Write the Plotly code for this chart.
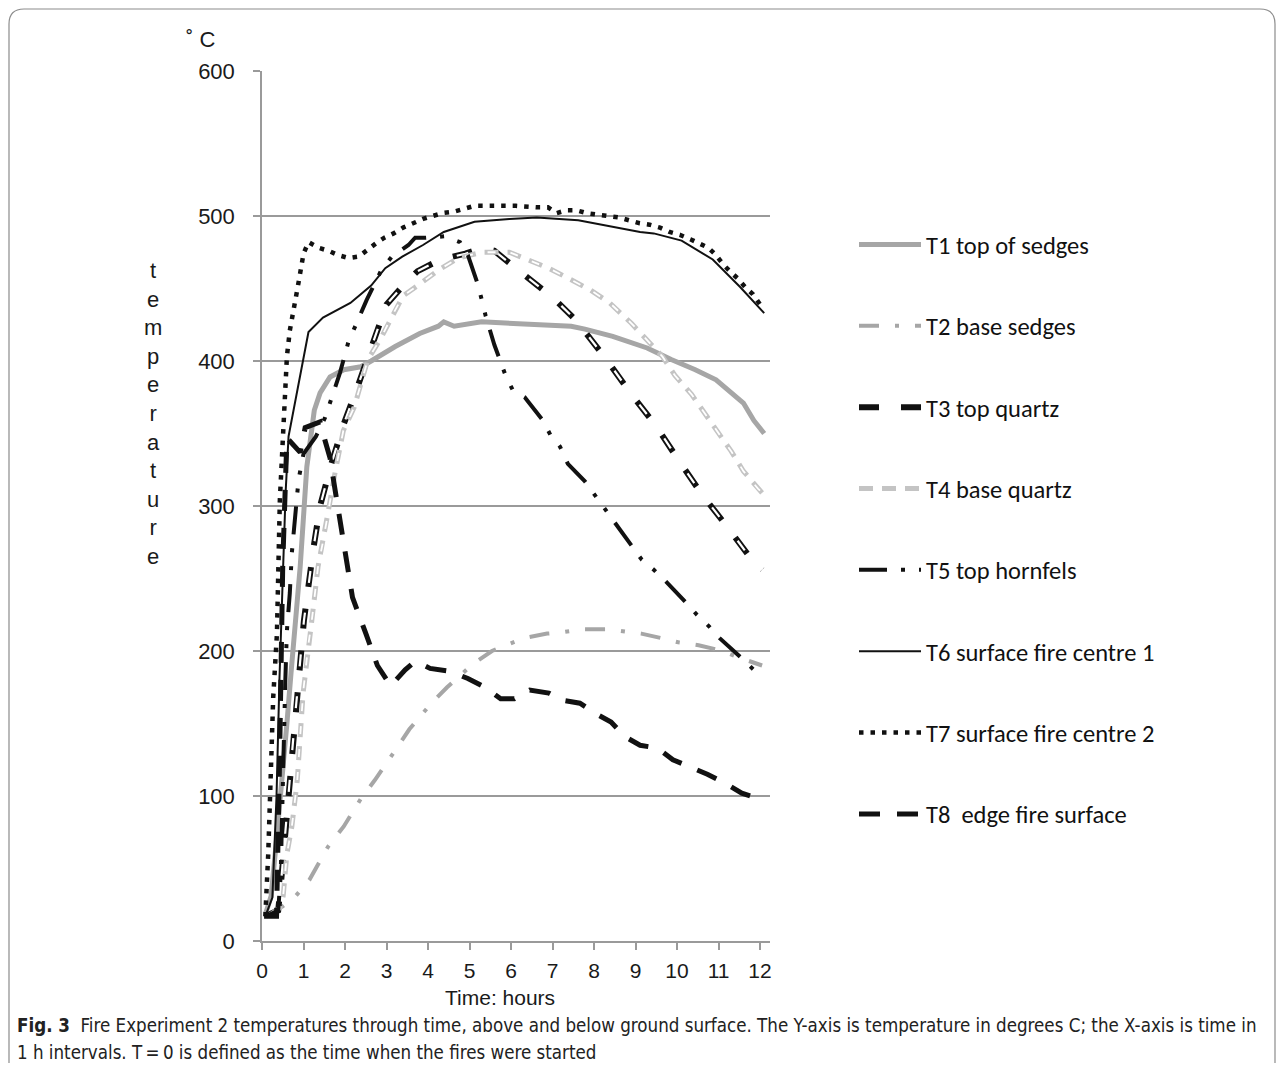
import plotly.graph_objects as go

# ---------------- data (hours, deg C) ----------------
t1_x = [0.1, 0.22, 0.35, 0.47, 0.6, 0.7, 0.8, 0.92, 1.08, 1.26, 1.4, 1.64, 1.97, 2.38, 2.63, 3.21, 3.8, 4.25, 4.38, 4.63, 5.29, 6.12, 6.95, 7.45, 7.78, 8.45, 9.28, 9.86, 10.44, 10.94, 11.6, 11.85, 12.1]
t1_y = [20, 31, 70, 106, 150, 185, 221, 258, 327, 366, 378, 389, 394, 396, 400, 410, 419, 424, 427, 424, 427, 426, 425, 424, 422, 417, 409, 401, 394, 387, 371, 359, 350]

t2_x = [0.1, 0.5, 0.81, 1.14, 1.59, 1.97, 2.38, 2.72, 3.2, 3.55, 4.05, 4.46, 5.08, 5.54, 5.87, 6.33, 6.87, 7.24, 7.72, 8.28, 8.61, 9.14, 9.61, 10.03, 10.52, 11.1, 11.44, 11.85, 12.05]
t2_y = [18, 24, 31, 42, 65, 79, 98, 111, 131, 146, 163, 175, 191, 200, 204, 209, 212, 213, 215, 215, 214, 212, 209, 206, 204, 200, 196, 192, 190]

t3_x = [0.15, 0.39, 0.47, 0.64, 0.81, 1.01, 1.24, 1.4, 1.66, 1.95, 2.3, 2.64, 3.0, 3.46, 3.75, 4.3, 4.9, 5.3, 5.6, 6.2, 7.0, 7.57, 8.3, 8.9, 9.5, 10.05, 10.6, 11.2, 11.8, 12.05]
t3_y = [18, 21, 44, 103, 159, 221, 271, 300, 328, 355, 382, 410, 439, 454, 462, 470, 474, 478, 476, 462, 444, 428, 401, 377, 355, 331, 308, 286, 263, 256]

t4_x = [0.2, 0.43, 0.51, 0.6, 0.72, 0.85, 0.99, 1.11, 1.2, 1.35, 1.48, 1.6, 1.76, 1.96, 2.22, 2.55, 2.87, 3.13, 3.4, 3.75, 4.27, 4.73, 5.29, 5.96, 6.41, 6.91, 7.45, 7.91, 8.38, 8.9, 9.65, 9.95, 10.35, 10.7, 11.03, 11.3, 11.6, 11.95, 12.05]
t4_y = [18, 23, 31, 60, 79, 111, 171, 203, 221, 258, 277, 297, 323, 352, 368, 401, 416, 431, 445, 452, 463, 471, 475, 475, 470, 464, 456, 449, 440, 426, 403, 390, 377, 363, 349, 338, 324, 312, 309]

t5_x = [0.1, 0.39, 0.45, 0.47, 0.51, 0.56, 0.6, 0.67, 0.72, 0.78, 0.88, 1.0, 1.3, 1.52, 1.64, 1.88, 2.08, 2.24, 2.52, 2.88, 3.13, 3.53, 3.69, 3.95, 4.4, 4.77, 4.96, 5.21, 5.39, 5.6, 5.87, 6.04, 6.33, 6.74, 6.95, 7.18, 7.37, 7.78, 8.06, 8.31, 8.53, 8.95, 9.15, 9.44, 9.73, 10.23, 10.48, 10.77, 11.02, 11.52, 11.85, 12.05]
t5_y = [17, 21, 45, 75, 128, 178, 214, 240, 268, 290, 318, 336, 348, 361, 371, 392, 413, 424, 442, 463, 472, 480, 485, 485, 486, 482, 473, 452, 431, 411, 390, 380, 375, 360, 349, 341, 329, 317, 306, 297, 288, 272, 263, 256, 248, 233, 225, 217, 209, 196, 187, 185]

t6_x = [0.08, 0.25, 0.35, 0.42, 0.5, 0.57, 0.64, 0.8, 0.95, 1.12, 1.47, 2.13, 2.63, 2.97, 3.38, 3.88, 4.38, 5.12, 5.96, 6.62, 7.62, 8.61, 9.11, 9.44, 10.11, 10.86, 11.52, 12.1]
t6_y = [17, 30, 100, 180, 250, 310, 348, 372, 396, 420, 430, 440, 452, 464, 472, 480, 489, 496, 498, 499, 497, 492, 489, 488, 483, 470, 451, 433]

t7_x = [0.08, 0.15, 0.27, 0.36, 0.43, 0.5, 0.55, 0.6, 0.67, 0.8, 0.88, 1.0, 1.12, 1.37, 1.6, 1.84, 2.09, 2.33, 2.55, 2.74, 2.95, 3.17, 3.4, 3.63, 3.88, 4.11, 4.35, 4.63, 4.88, 5.12, 5.62, 6.12, 6.62, 6.89, 7.1, 7.33, 7.57, 7.82, 8.07, 8.32, 8.6, 8.85, 9.1, 9.34, 9.59, 9.82, 10.07, 10.32, 10.55, 10.76, 10.94, 11.1, 11.27, 11.46, 11.64, 11.83, 12.05]
t7_y = [17, 60, 168, 212, 304, 350, 375, 403, 421, 444, 454, 474, 482, 478, 476, 473, 471, 472, 477, 481, 485, 488, 492, 495, 498, 500, 502, 503, 505, 507, 507, 507, 506, 506, 502, 504, 504, 502, 501, 500, 499, 497, 495, 494, 492, 489, 487, 484, 481, 478, 473, 467, 462, 457, 451, 446, 437]

t8_x = [0.05, 0.35, 0.42, 0.5, 0.6, 0.75, 0.92, 1.04, 1.4, 1.52, 1.64, 1.75, 1.9, 2.02, 2.18, 2.49, 2.78, 3.1, 3.45, 3.69, 4.05, 4.54, 4.96, 5.37, 5.75, 6.08, 6.45, 6.91, 7.24, 7.66, 8.03, 8.41, 8.74, 9.11, 9.53, 9.9, 10.32, 10.73, 11.15, 11.56, 11.98]
t8_y = [17, 17, 120, 260, 347, 342, 337, 354, 358, 345, 333, 313, 287, 262, 237, 213, 190, 176, 187, 193, 188, 186, 181, 175, 167, 167, 173, 171, 166, 164, 157, 151, 141, 135, 133, 125, 120, 115, 109, 102, 98]

names = ["T1 top of sedges", "T2 base sedges", "T3 top quartz", "T4 base quartz",
         "T5 top hornfels", "T6 surface fire centre 1", "T7 surface fire centre 2",
         "T8  edge fire surface"]
x_ticks = list(range(0, 13))
y_ticks = [0, 100, 200, 300, 400, 500, 600]

# ---------------- layout geometry ----------------
OFF = 8                      # page body margin
W, H = 1284 - 2 * OFF, 1071 - 2 * OFF
L, R, T, B = 262 - OFF, 770 - OFF, 71 - OFF, 941 - OFF


def px(xr):
    """screen x (reference pixels) -> paper x"""
    return (xr - OFF - L) / (R - L)


def py(yr):
    """screen y (reference pixels) -> paper y"""
    return (B - (yr - OFF)) / (B - T)


AX_FONT = "Liberation Sans, Arial, sans-serif"
LEG_FONT = "Carlito, Lato, sans-serif"
CAP_FONT = "Liberation Sans Narrow, DejaVu Sans Condensed, sans-serif"

fig = go.Figure()

styles = [
    (t1_x, t1_y, dict(color="#a6a6a6", width=5, dash="solid"), None),
    (t2_x, t2_y, dict(color="#a6a6a6", width=4, dash="20px,16px,4px,16px"), None),
    (t3_x, t3_y, dict(color="#111111", width=6, dash="20px,22px"),
     dict(color="white", width=2.2, dash="0px,4px,12px,26px")),
    (t4_x, t4_y, dict(color="#c4c4c4", width=5, dash="14px,9px"),
     dict(color="white", width=1.8, dash="0px,3px,8px,12px")),
    (t5_x, t5_y, dict(color="#111111", width=4, dash="28px,14px,4px,14px,4px,14px"), None),
    (t6_x, t6_y, dict(color="#111111", width=2, dash="solid"), None),
    (t7_x, t7_y, dict(color="#111111", width=4.5, dash="4.5px,7px"), None),
    (t8_x, t8_y, dict(color="#111111", width=5, dash="21px,17px"), None),
]

for i, (xs, ys, ln, inner) in enumerate(styles):
    fig.add_trace(go.Scatter(x=xs, y=ys, mode="lines", name=names[i], line=ln,
                             legendgroup=f"g{i}", showlegend=True, hoverinfo="skip"))
    if inner is not None:
        fig.add_trace(go.Scatter(x=xs, y=ys, mode="lines", name=names[i], line=inner,
                                 legendgroup=f"g{i}", showlegend=False, hoverinfo="skip"))

fig.update_xaxes(range=[0, 12.24], tickvals=x_ticks, ticktext=[str(v) for v in x_ticks],
                 showgrid=False, zeroline=False, showline=True, linecolor="#9a9a9a", linewidth=1.5,
                 ticks="outside", ticklen=7, tickcolor="#9a9a9a", tickwidth=1.5,
                 tickfont=dict(family=AX_FONT, size=21, color="#1a1a1a"), ticklabelstandoff=3,
                 fixedrange=True)
fig.update_yaxes(range=[0, 600], tickvals=y_ticks, showgrid=True, gridcolor="#9a9a9a", gridwidth=1.5,
                 zeroline=False, showline=True, linecolor="#9a9a9a", linewidth=1.5,
                 ticks="outside", ticklen=7, tickcolor="#9a9a9a", tickwidth=1.5,
                 tickfont=dict(family=AX_FONT, size=22, color="#1a1a1a"), ticklabelstandoff=14,
                 fixedrange=True)

annotations = [
    dict(x=px(500), y=py(997), text="Time: hours", showarrow=False, xanchor="center", yanchor="middle",
         font=dict(family=AX_FONT, size=21, color="#1a1a1a")),
    dict(x=px(200), y=py(40), text="˚ C", showarrow=False, xanchor="center", yanchor="middle",
         font=dict(family=AX_FONT, size=22, color="#1a1a1a")),
    dict(x=px(153), y=py(413), text="<br>".join(list("temperature")), showarrow=False,
         xanchor="center", yanchor="middle", align="center",
         font=dict(family=AX_FONT, size=22, color="#1a1a1a")),
    dict(x=px(15), y=py(1025), xanchor="left", yanchor="middle", showarrow=False, align="left",
         text="<b>Fig. 3</b>  Fire Experiment 2 temperatures through time, above and below ground surface. "
              "The Y-axis is temperature in degrees C; the X-axis is time in",
         font=dict(family=CAP_FONT, size=18.6, color="#222222")),
    dict(x=px(15), y=py(1052), xanchor="left", yanchor="middle", showarrow=False, align="left",
         text="1 h intervals. T\u2009=\u20090 is defined as the time when the fires were started",
         font=dict(family=CAP_FONT, size=18.6, color="#222222")),
]
for a in annotations:
    a["xref"] = "paper"
    a["yref"] = "paper"

bx0, by0, bx1, by1, rr = 9, 9, 1275, 1090, 15
border = (f"M {px(bx0)},{py(by1)} L {px(bx0)},{py(by0 + rr)} Q {px(bx0)},{py(by0)} {px(bx0 + rr)},{py(by0)} "
          f"L {px(bx1 - rr)},{py(by0)} Q {px(bx1)},{py(by0)} {px(bx1)},{py(by0 + rr)} L {px(bx1)},{py(by1)}")

fig.update_layout(
    width=W, height=H, autosize=False,
    margin=dict(l=L, r=W - R, t=T, b=H - B, pad=0),
    paper_bgcolor="white", plot_bgcolor="white",
    showlegend=True,
    legend=dict(x=px(854), y=py(222), xanchor="left", yanchor="top",
                font=dict(family=LEG_FONT, size=24.5, color="#111111"),
                traceorder="grouped", tracegroupgap=46.5, itemwidth=62,
                bgcolor="rgba(0,0,0,0)", borderwidth=0),
    annotations=annotations,
    shapes=[dict(type="path", xref="paper", yref="paper", path=border,
                 line=dict(color="#8c8c8c", width=1.2), fillcolor="rgba(0,0,0,0)", layer="above")],
)

fig.write_html("out.html")
